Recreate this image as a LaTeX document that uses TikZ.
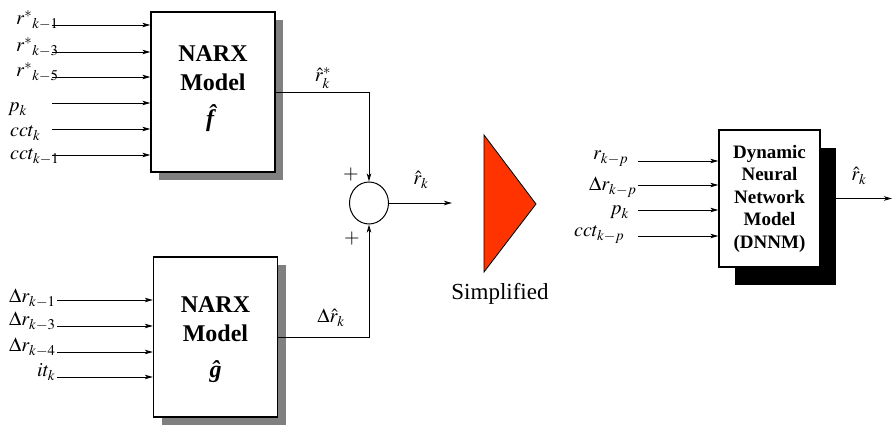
\documentclass[tikz,border=0pt]{standalone}
\usepackage{mathptmx}
\usepackage{fontspec}
\setmainfont{Liberation Serif}
\usepackage{xcolor}
\usepackage{tikz}
\usetikzlibrary{arrows.meta,shapes.geometric,shadows}

\definecolor{simpRed}{HTML}{FF3300}

\tikzset{
  arr/.style={-{Stealth[length=8pt,width=4.5pt,inset=2pt]}, line width=0.9pt},
  lbl/.style={inner sep=0pt, anchor=base west, font=\fontsize{20}{22}\selectfont},
  outlbl/.style={inner sep=0pt, anchor=base, font=\fontsize{20}{22}\selectfont},
  narx/.style={draw, line width=1.3pt, fill=white, minimum width=124pt,
    minimum height=160pt, inner sep=0pt,
    drop shadow={shadow xshift=8pt, shadow yshift=-8pt, fill=black!50, opacity=1}},
  narxtext/.style={align=center, inner sep=0pt, font=\fontsize{24}{29}\selectfont\bfseries},
  dnnmbox/.style={draw, line width=1.3pt, fill=white, minimum width=101pt,
    minimum height=137pt, align=center, inner sep=0pt,
    font=\fontsize{19}{22.5}\selectfont\bfseries,
    drop shadow={shadow xshift=16pt, shadow yshift=-18pt, fill=black, opacity=1}},
  sumnode/.style={draw, ellipse, line width=1pt, minimum width=39pt,
    minimum height=42pt, inner sep=0pt}
}

\begin{document}
\begin{tikzpicture}[x=1pt,y=-1pt]
    \useasboundingbox (0,0) rectangle (892,427);

    % the two NARX models
    \node[narx] (f) at (213,92) {};
    \node[narxtext] (fTxt) at ([yshift=3pt]f.center) {NARX\\Model\\[7pt]\textit{\^{f}}};
    \node[narx] (g) at (215.5,337) {};
    \node[narxtext] (gTxt) at ([yshift=-3pt]g.center) {NARX\\Model\\[7pt]\textit{\^{g}}};

    % inputs of f
    \foreach \ay/\lx/\ly/\txt [count=\i] in {25/16/25/{$r^{*}{}_{k-1}$}, 52/16/52/{$r^{*}{}_{k-3}$},
        77/16/77/{$r^{*}{}_{k-5}$}, 103/8/112/{$p_k$}, 129/10/137/{$cct_k$}, 155/10/160/{$cct_{k-1}$}} {
      \node[lbl] (fl\i) at (\lx,\ly) {\txt};
      \coordinate (fin\i) at (52,\ay);
      \draw[arr] (fin\i) -- (fin\i -| f.west);
    }

    % inputs of g
    \foreach \ay/\lx/\ly/\txt [count=\i] in {300/9/303/{$\Delta r_{k-1}$}, 326/9/326/{$\Delta r_{k-3}$},
        352/9/352/{$\Delta r_{k-4}$}, 377/37/377/{$it_k$}} {
      \node[lbl] (gl\i) at (\lx,\ly) {\txt};
      \coordinate (gin\i) at (57,\ay);
      \draw[arr] (gin\i) -- (gin\i -| g.west);
    }

    % summing junction
    \node[sumnode] (sum) at (369,203) {};
    \draw[arr] (f.east) -| (sum.north);
    \draw[arr] (g.east) -| (sum.south);
    \node[outlbl] (fOut) at (323,82) {$\hat{r}^{*}_{k}$};
    \node[outlbl] (gOut) at (331,323) {$\Delta\hat{r}_{k}$};
    \node[font=\fontsize{20}{22}\selectfont] (plusTop) at (351,175) {$+$};
    \node[font=\fontsize{20}{22}\selectfont] (plusBot) at (352,239) {$+$};
    \coordinate (sumOut) at (452,203);
    \draw[arr] (sum.east) -- (sumOut);
    \node[outlbl] (sumLbl) at (421,185) {$\hat{r}_{k}$};

    % simplified
    \coordinate (triA) at (484,135);
    \coordinate (triB) at (484,272);
    \coordinate (triC) at (536,204);
    \draw[fill=simpRed, line width=0.8pt] (triA) -- (triC) -- (triB) -- cycle;
    \node[outlbl, font=\fontsize{23}{25}\selectfont] (simp) at (500,300) {Simplified};

    % dynamic neural network model
    \node[dnnmbox] (dnnm) at (769.5,198.5) {Dynamic\\Neural\\Network\\Model\\(DNNM)};
    \foreach \ay/\lx/\ly/\txt [count=\i] in {161/593/160/{$r_{k-p}$}, 185/589/191/{$\Delta r_{k-p}$},
        210/610/215/{$p_k$}, 236/574/237/{$cct_{k-p}$}} {
      \node[lbl] (dl\i) at (\lx,\ly) {\txt};
      \coordinate (din\i) at (638,\ay);
      \draw[arr] (din\i) -- (din\i -| dnnm.west);
    }
    \coordinate (dnnmOut) at (892,197);
    \draw[arr] (dnnm.east) -- (dnnm.east -| dnnmOut);
    \node[outlbl] (dnnmLbl) at (859,181) {$\hat{r}_{k}$};
\end{tikzpicture}
\end{document}
